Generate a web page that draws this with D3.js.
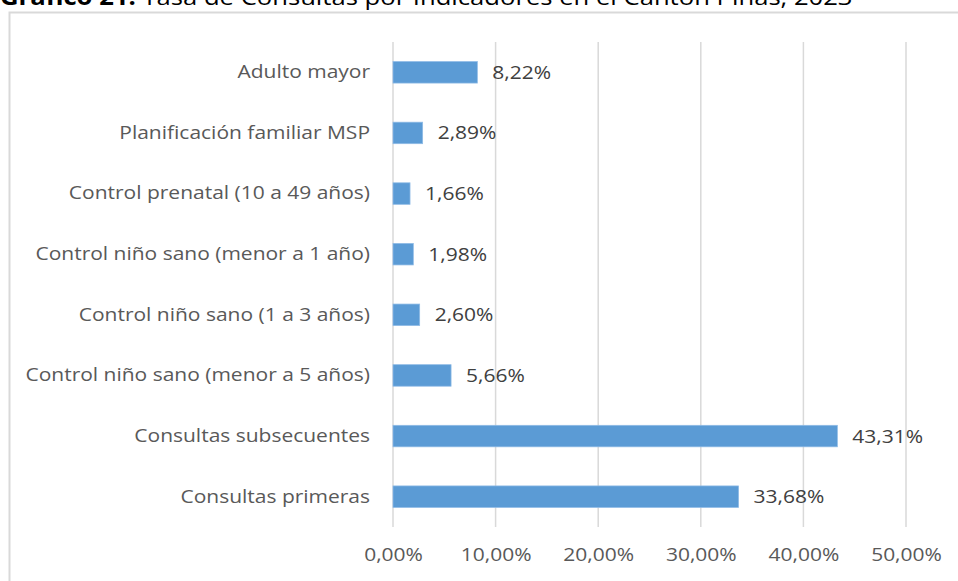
<!DOCTYPE html>
<html>
<head>
<meta charset="utf-8">
<script src="https://cdn.jsdelivr.net/npm/d3@7"></script>
<style>
  html, body { margin: 0; padding: 0; background: #ffffff; }
  svg { display: block; }
</style>
</head>
<body>
<script>
// Indicator categories (top to bottom) and their consultation rates (%)
const categories = [
  "Adulto mayor",
  "Planificación familiar MSP",
  "Control prenatal (10 a 49 años)",
  "Control niño sano (menor a 1 año)",
  "Control niño sano (1 a 3 años)",
  "Control niño sano (menor a 5 años)",
  "Consultas subsecuentes",
  "Consultas primeras"
];
const values = [8.22, 2.89, 1.66, 1.98, 2.60, 5.66, 43.31, 33.68];
const tickValues = [0, 10, 20, 30, 40, 50];
const titleBold = "Gráfico 21.";
const titleText = " Tasa de Consultas por Indicadores en el Cantón Piñas, 2023";

const W = 958, H = 581;
const fontFam = "'Open Sans', 'Noto Sans', sans-serif";
const fontSize = 18.5;
const sx = 1.135;              // horizontal widening of the text glyphs
const fmt = v => v.toFixed(2).replace(".", ",") + "%";

const svg = d3.select("body").append("svg")
  .attr("width", W).attr("height", H);

// Title (sits partly above the top edge)
const title = svg.append("text")
  .attr("transform", `translate(0,5) scale(${sx},1)`)
  .attr("font-family", fontFam)
  .attr("font-size", 22.6)
  .attr("fill", "#000000");
title.append("tspan").attr("font-weight", "bold").text(titleBold);
title.append("tspan").text(titleText);

// Chart frame
svg.append("rect")
  .attr("x", 9.5).attr("y", 12.5)
  .attr("width", W + 20).attr("height", H + 20)
  .attr("fill", "none")
  .attr("stroke", "#d9d9d9")
  .attr("stroke-width", 2);

const plot = { left: 393, right: 906, top: 42, bottom: 527 };

const x = d3.scaleLinear()
  .domain([0, 50])
  .range([plot.left, plot.right]);

const y = d3.scaleBand()
  .domain(categories)
  .range([plot.top, plot.bottom])
  .paddingInner(0.645)
  .paddingOuter(0.3225);

// Vertical gridlines
svg.append("g")
  .selectAll("line")
  .data(tickValues)
  .join("line")
  .attr("x1", d => x(d)).attr("x2", d => x(d))
  .attr("y1", plot.top).attr("y2", plot.bottom)
  .attr("stroke", "#d9d9d9")
  .attr("stroke-width", 1.5);

// X axis tick labels
const xAxis = d3.axisBottom(x)
  .tickValues(tickValues)
  .tickFormat(fmt)
  .tickSize(0)
  .tickPadding(0);
const gx = svg.append("g")
  .attr("transform", `translate(0,${plot.bottom + 21})`)
  .call(xAxis);
gx.select(".domain").remove();
gx.selectAll("text")
  .attr("font-family", fontFam)
  .attr("font-size", fontSize)
  .attr("fill", "#595959")
  .attr("transform", `scale(${sx},1)`);

// Category labels
const labelGap = 23;
const yAxis = d3.axisLeft(y).tickSize(0).tickPadding(labelGap);
const gy = svg.append("g")
  .attr("transform", `translate(${plot.left},0)`)
  .call(yAxis);
gy.select(".domain").remove();
gy.selectAll("text")
  .attr("font-family", fontFam)
  .attr("font-size", fontSize)
  .attr("fill", "#595959")
  .attr("x", -labelGap / sx)
  .attr("transform", `scale(${sx},1)`);

// Bars
const rows = categories.map((c, i) => ({ c, v: values[i] }));
svg.append("g")
  .selectAll("rect")
  .data(rows)
  .join("rect")
  .attr("x", x(0))
  .attr("y", d => y(d.c))
  .attr("width", d => x(d.v) - x(0))
  .attr("height", y.bandwidth())
  .attr("fill", "#5b9bd5")
  .attr("stroke", "#8fbbe6")
  .attr("stroke-width", 0.75);

// Value labels
svg.append("g")
  .selectAll("text")
  .data(rows)
  .join("text")
  .attr("transform", d => `translate(${x(d.v) + 15},${y(d.c) + y.bandwidth() / 2}) scale(${sx},1)`)
  .attr("dy", "0.35em")
  .attr("font-family", fontFam)
  .attr("font-size", fontSize)
  .attr("fill", "#404040")
  .text(d => fmt(d.v));
</script>
</body>
</html>
